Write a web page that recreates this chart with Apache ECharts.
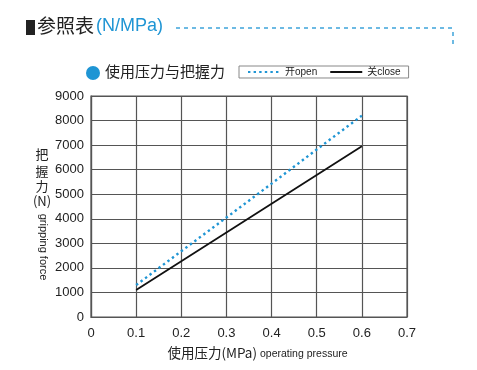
<!DOCTYPE html>
<html><head><meta charset="utf-8">
<script src="https://cdn.jsdelivr.net/npm/echarts@6/dist/echarts.min.js"></script>
<style>html,body{margin:0;padding:0;background:#fff}#c{width:477px;height:370px}</style>
</head><body><div id="c"></div>
<script>
var pressure = [0.1, 0.2, 0.3, 0.4, 0.5, 0.6];
var openForce = [1300, 2680, 4050, 5430, 6820, 8200];
var closeForce = [1100, 2270, 3440, 4610, 5780, 6950];
var seriesNames = ['开open', '关close'];
var titleMain = '参照表';
var titleUnit = '(N/MPa)';
var subTitle = '使用压力与把握力';
var yNameCn = ['把', '握', '力', '(N)'];
var yNameEn = 'gripping force';
var xNameCn = '使用压力(MPa)';
var xNameEn = 'operating pressure';

var BLUE = '#1f95d4';
var FONT = '"Liberation Sans", Arial, "Noto Sans CJK SC", sans-serif';
var chart = echarts.init(document.getElementById('c'));

function pairs(xs, ys){ return xs.map(function(x,i){ return [x, ys[i]]; }); }

var graphics = [
  {type:'rect', shape:{x:26, y:20, width:9, height:15}, style:{fill:'#222'}},
  {type:'text', left:37, top:16, style:{text:titleMain, font:'19px "Noto Sans CJK SC", sans-serif', fill:'#222'}},
  {type:'text', left:96, top:17, style:{text:titleUnit, font:'18px ' + FONT, fill:BLUE}},
  {type:'line', shape:{x1:176, y1:28, x2:453, y2:28}, style:{stroke:BLUE, lineWidth:1.3, lineDash:[4,4]}},
  {type:'line', shape:{x1:453, y1:32, x2:453, y2:46}, style:{stroke:BLUE, lineWidth:1.3, lineDash:[4,4]}},
  {type:'circle', shape:{cx:93, cy:73, r:7}, style:{fill:BLUE}},
  {type:'text', left:105, top:64, style:{text:subTitle, font:'15px "Noto Sans CJK SC", sans-serif', fill:'#222'}}
];
yNameCn.forEach(function(ch, i){
  graphics.push({type:'text', style:{text:ch, x:42, y:[154,171,186,201][i], align:'center', verticalAlign:'middle', font:'13px "Noto Sans CJK SC", ' + FONT, fill:'#222'}});
});
graphics.push({type:'text', x:43, y:247, rotation:-Math.PI/2, style:{text:yNameEn, x:0, y:0, align:'center', verticalAlign:'middle', font:'11px ' + FONT, fill:'#222'}});
graphics.push({type:'text', style:{x:257, y:360, align:'right', verticalAlign:'bottom', text:xNameCn,
  font:'13.5px "Noto Sans CJK SC", sans-serif', fill:'#222'}});
graphics.push({type:'text', style:{x:260, y:359, align:'left', verticalAlign:'bottom', text:xNameEn,
  font:'10.5px ' + FONT, fill:'#222'}});

chart.setOption({
  animation:false,
  backgroundColor:'#fff',
  textStyle:{fontFamily:FONT},
  grid:{left:91, right:70, top:96, bottom:53, show:true, borderColor:'#555', borderWidth:1.2},
  legend:{
    left:239, top:66, padding:[1,8,1,8], itemWidth:32, itemHeight:10, itemGap:12,
    borderColor:'#888', borderWidth:1,
    itemStyle:{opacity:0},
    data:seriesNames, textStyle:{fontSize:10, color:'#222', fontFamily:FONT}
  },
  xAxis:{type:'value', min:0, max:0.7, interval:0.1,
    axisLine:{lineStyle:{color:'#555', width:1.2}}, axisTick:{show:false},
    splitLine:{show:true, lineStyle:{color:'#555', width:1.2}},
    axisLabel:{fontSize:13, color:'#222', margin:10}},
  yAxis:{type:'value', min:0, max:9000, interval:1000,
    axisLine:{show:true, lineStyle:{color:'#555', width:1.2}}, axisTick:{show:false},
    splitLine:{show:true, lineStyle:{color:'#555', width:1.2}},
    axisLabel:{fontSize:13, color:'#222', margin:7, formatter:function(v){ return String(v); }}},
  series:[
    {name:seriesNames[0], type:'line', symbol:'none', data:pairs(pressure, openForce),
     lineStyle:{color:BLUE, width:2.4, type:[2.4,3.2]}, itemStyle:{color:BLUE}},
    {name:seriesNames[1], type:'line', symbol:'none', data:pairs(pressure, closeForce),
     lineStyle:{color:'#111', width:1.8}, itemStyle:{color:'#111'}}
  ],
  graphic:graphics
});
</script></body></html>
